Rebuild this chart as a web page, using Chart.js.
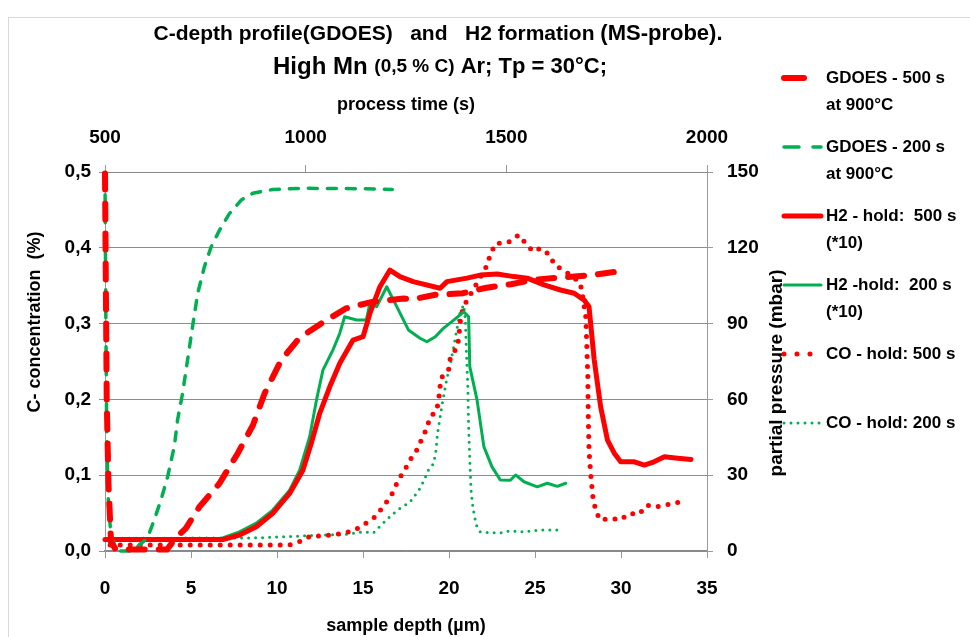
<!DOCTYPE html>
<html>
<head>
<meta charset="utf-8">
<title>C-depth profile (GDOES) and H2 formation (MS-probe)</title>
<script src="https://cdn.jsdelivr.net/npm/chart.js@4.4.0/dist/chart.umd.min.js"></script>
<style>
  html, body { margin: 0; padding: 0; background: #fff; }
  #wrap { position: relative; width: 970px; height: 637px; }
</style>
</head>
<body>
<div id="wrap"><canvas id="chart" width="970" height="637"></canvas></div>
<script>
// --- data ---
// GDOES profiles: sample depth (µm) vs C-concentration (%)
const gdoes500Depth = [0, 0.05, 0.1, 0.2, 0.35, 0.6, 1.0, 3.6, 4.12, 4.7, 5.48, 6.65, 7.72, 8.6, 9.28, 10.25, 11.3, 12.7, 14.0, 15.6, 17.35, 17.9, 19.2, 20.8, 22.1, 23.6, 25.0, 26.6, 28.3, 29.6, 30.0];
const gdoes500C     = [0.498, 0.35, 0.2, 0.09, 0.012, 0.003, 0.002, 0.002, 0.017, 0.030, 0.058, 0.089, 0.129, 0.166, 0.208, 0.252, 0.281, 0.302, 0.320, 0.329, 0.333, 0.332, 0.338, 0.340, 0.347, 0.352, 0.358, 0.361, 0.364, 0.368, 0.368];

const gdoes200Depth = [0, 0.05, 0.1, 0.2, 0.35, 0.7, 1.6, 2.47, 2.86, 3.25, 3.64, 4.03, 4.22, 4.51, 4.8, 5.09, 5.39, 5.78, 6.17, 6.65, 7.23, 7.92, 8.6, 9.76, 11.7, 14.6, 16.7];
const gdoes200C     = [0.495, 0.3, 0.15, 0.06, 0.02, 0.0, 0.0, 0.017, 0.041, 0.067, 0.098, 0.138, 0.173, 0.208, 0.252, 0.296, 0.340, 0.375, 0.401, 0.423, 0.445, 0.463, 0.472, 0.477, 0.4785, 0.478, 0.477];

// MS-probe: process time (s) vs partial pressure (mbar)
const h2Hold500Time = [500, 629, 796, 835, 877, 918, 960, 993, 1014, 1035, 1060, 1085, 1118, 1143, 1160, 1185, 1210, 1235, 1268, 1335, 1352, 1402, 1435, 1477, 1519, 1552, 1594, 1635, 1669, 1694, 1706, 1719, 1735, 1752, 1769, 1785, 1819, 1844, 1868, 1894, 1927, 1960];
const h2Hold500P    = [4.6, 4.6, 4.6, 6.3, 9.6, 14.9, 22.8, 32, 42.6, 54.5, 65, 74.3, 83.5, 84.8, 94, 104.6, 111.2, 108.6, 106.6, 104, 106.6, 108, 109.2, 109.6, 108.6, 108, 105.3, 103.3, 102, 99.3, 96.7, 75.6, 57.1, 43.9, 38.7, 35.3, 35.3, 34, 35.3, 37.3, 36.7, 36.2];

const h2Hold200Time = [500, 779, 835, 877, 918, 960, 985, 1010, 1027, 1043, 1068, 1085, 1097, 1127, 1151, 1160, 1177, 1202, 1227, 1256, 1285, 1302, 1323, 1343, 1369, 1394, 1406, 1409, 1427, 1444, 1464, 1485, 1510, 1523, 1544, 1577, 1602, 1627, 1648];
const h2Hold200P    = [4.4, 4.4, 7.6, 11, 16.2, 24.1, 32, 45.2, 59.8, 71.6, 79.6, 86.2, 92.7, 91.4, 91.4, 98, 96.7, 104.6, 96.7, 87.5, 84.2, 82.8, 84.8, 88.1, 91.4, 94.7, 92.7, 72.9, 59.8, 41.3, 33.4, 28.1, 28, 30.1, 27.4, 25.4, 26.8, 25.6, 26.8];

const coHold500Time = [513, 714, 959, 985, 1010, 1060, 1094, 1123, 1143, 1169, 1193, 1214, 1231, 1247, 1260, 1277, 1289, 1302, 1310, 1325, 1331, 1334, 1337, 1356, 1360, 1373, 1381, 1384, 1387, 1398, 1450, 1460, 1473, 1485, 1508, 1531, 1548, 1567, 1585, 1608, 1620, 1641, 1660, 1684, 1689, 1698, 1700, 1703, 1704, 1706, 1710, 1716, 1723, 1733, 1759, 1784, 1806, 1831, 1850, 1870, 1894, 1920, 1950];
const coHold500P    = [2.4, 2.4, 2.4, 3.7, 5.7, 6.3, 7, 8.3, 10.3, 12.9, 17.5, 22.2, 28.1, 32.1, 36, 40, 44.2, 48.6, 53.2, 55.1, 59.1, 63.7, 68.4, 71.6, 75.9, 79.6, 83.5, 88.8, 93.4, 98, 112.5, 117.2, 121.8, 121.8, 122.4, 125.1, 121.8, 118.5, 119.8, 117.2, 113.2, 111.2, 109.2, 106.2, 102, 92.7, 83.5, 69, 54.5, 40, 30.8, 20.9, 16, 12.3, 12.9, 12.3, 14.9, 14.6, 18.2, 17.4, 18, 19.2, 19.2];

const coHold200Time = [509, 881, 1043, 1094, 1143, 1169, 1193, 1214, 1235, 1256, 1264, 1285, 1295, 1306, 1319, 1325, 1328, 1334, 1339, 1345, 1352, 1360, 1369, 1375, 1381, 1385, 1394, 1398, 1400, 1404, 1406, 1409, 1412, 1417, 1425, 1435, 1460, 1485, 1510, 1544, 1585, 1627, 1643];
const coHold200P    = [5.0, 5.2, 6.3, 6.5, 7.6, 7.2, 11, 14.2, 16.9, 18.9, 20.2, 24.8, 28.1, 32, 34.7, 40, 45.9, 51.9, 57.1, 62.4, 68.4, 73.6, 80.9, 86.2, 91.4, 94.7, 97.4, 91.4, 80.9, 65, 49.2, 36, 24.1, 16.9, 10.3, 7.6, 7.2, 7.2, 8, 7.6, 8.3, 8.3, 8.4];

const seriesNames = ['GDOES - 500 s at 900°C', 'GDOES - 200 s at 900°C', 'H2 - hold:  500 s (*10)', 'H2 -hold:  200 s (*10)', 'CO - hold: 500 s', 'CO - hold: 200 s'];
const legendLabels = [
  ['GDOES - 500 s', 'at 900°C'],
  ['GDOES - 200 s', 'at 900°C'],
  ['H2 - hold:  500 s', '(*10)'],
  ['H2 -hold:  200 s', '(*10)'],
  ['CO - hold: 500 s'],
  ['CO - hold: 200 s']
];

const RED = '#FF0000';
const GREEN = '#00B050';
const FONT = '"Liberation Sans", Arial, sans-serif';

function pairs(xs, ys) {
  return xs.map((x, i) => ({ x: x, y: ys[i] }));
}

// --- plugins: background/border, title, vertical axis titles, side legend ---
const framePlugin = {
  id: 'frame',
  beforeDraw(chart) {
    const ctx = chart.ctx;
    ctx.save();
    ctx.fillStyle = '#fff';
    ctx.fillRect(0, 0, chart.width, chart.height);
    ctx.strokeStyle = '#d9d9d9';
    ctx.lineWidth = 1;
    ctx.strokeRect(8.5, 17.5, 1000, 1000);
    ctx.restore();
  }
};

const titlePlugin = {
  id: 'mixedTitle',
  afterDraw(chart) {
    const ctx = chart.ctx;
    const lines = [
      { cx: 438, y: 34, parts: [['C-depth profile(GDOES)   and   H2 formation ', 21], ['(MS-probe).', 22]] },
      { cx: 440, y: 67, parts: [['High Mn ', 24], ['(0,5 % C)', 19], [' Ar; Tp = 30°C;', 22]] }
    ];
    ctx.save();
    ctx.fillStyle = '#000';
    ctx.textBaseline = 'middle';
    ctx.textAlign = 'left';
    lines.forEach(line => {
      let total = 0;
      line.parts.forEach(p => { ctx.font = 'bold ' + p[1] + 'px ' + FONT; total += ctx.measureText(p[0]).width; });
      let x = line.cx - total / 2;
      line.parts.forEach(p => {
        ctx.font = 'bold ' + p[1] + 'px ' + FONT;
        ctx.fillText(p[0], x, line.y);
        x += ctx.measureText(p[0]).width;
      });
    });
    ctx.restore();
  }
};

const vTitlePlugin = {
  id: 'vTitles',
  afterDraw(chart) {
    const ctx = chart.ctx;
    ctx.save();
    ctx.fillStyle = '#000';
    ctx.textAlign = 'center';
    ctx.textBaseline = 'middle';
    [[35, 322, 'C- concentration  (%)', 18], [777, 373, 'partial pressure (mbar)', 19]].forEach(t => {
      ctx.save();
      ctx.font = 'bold ' + t[3] + 'px ' + FONT;
      ctx.translate(t[0], t[1]);
      ctx.rotate(-Math.PI / 2);
      ctx.fillText(t[2], 0, 0);
      ctx.restore();
    });
    ctx.restore();
  }
};

const sideLegendPlugin = {
  id: 'sideLegend',
  afterDraw(chart) {
    const ctx = chart.ctx;
    ctx.save();
    ctx.font = 'bold 17px ' + FONT;
    ctx.textBaseline = 'middle';
    ctx.textAlign = 'left';
    chart.data.datasets.forEach((ds, i) => {
      const y = 78 + i * 69;
      ctx.beginPath();
      ctx.strokeStyle = ds.borderColor;
      ctx.lineWidth = ds.borderWidth;
      ctx.lineCap = ds.borderCapStyle || 'butt';
      ctx.setLineDash(ds.legendDash || []);
      ctx.moveTo(784, y);
      ctx.lineTo(821, y);
      ctx.stroke();
      ctx.setLineDash([]);
      ctx.fillStyle = '#000';
      legendLabels[i].forEach((txt, k) => ctx.fillText(txt, 826, y + k * 27));
    });
    ctx.restore();
  }
};

const tickFont = { family: FONT, size: 19, weight: 'bold' };
const titleFont = { family: FONT, size: 18, weight: 'bold' };

new Chart(document.getElementById('chart'), {
  type: 'line',
  data: {
    datasets: [
      {
        label: seriesNames[0], data: pairs(gdoes500Depth, gdoes500C), xAxisID: 'x', yAxisID: 'y',
        borderColor: RED, borderWidth: 6, borderDash: [16, 14], borderCapStyle: 'round',
        legendDash: [20, 40], pointRadius: 0, tension: 0, fill: false, clip: false
      },
      {
        label: seriesNames[1], data: pairs(gdoes200Depth, gdoes200C), xAxisID: 'x', yAxisID: 'y',
        borderColor: GREEN, borderWidth: 3.5, borderDash: [9, 10], borderCapStyle: 'round',
        legendDash: [15, 14], pointRadius: 0, tension: 0, fill: false, clip: false
      },
      {
        label: seriesNames[2], data: pairs(h2Hold500Time, h2Hold500P), xAxisID: 'x2', yAxisID: 'y2',
        borderColor: RED, borderWidth: 5, borderCapStyle: 'round', borderJoinStyle: 'round',
        pointRadius: 0, tension: 0, fill: false, clip: false
      },
      {
        label: seriesNames[3], data: pairs(h2Hold200Time, h2Hold200P), xAxisID: 'x2', yAxisID: 'y2',
        borderColor: GREEN, borderWidth: 3, borderCapStyle: 'round', borderJoinStyle: 'round',
        pointRadius: 0, tension: 0, fill: false, clip: false
      },
      {
        label: seriesNames[4], data: pairs(coHold500Time, coHold500P), xAxisID: 'x2', yAxisID: 'y2',
        borderColor: RED, borderWidth: 5, borderDash: [0, 10], borderCapStyle: 'round',
        legendDash: [0, 13], pointRadius: 0, tension: 0, fill: false, clip: false
      },
      {
        label: seriesNames[5], data: pairs(coHold200Time, coHold200P), xAxisID: 'x2', yAxisID: 'y2',
        borderColor: GREEN, borderWidth: 3, borderDash: [0, 7], borderCapStyle: 'round',
        legendDash: [0, 7], pointRadius: 0, tension: 0, fill: false, clip: false
      }
    ]
  },
  options: {
    responsive: false,
    animation: false,
    layout: { padding: { top: 90, right: 183, bottom: 0, left: 0 } },
    plugins: {
      legend: { display: false },
      title: { display: false },
      tooltip: { enabled: false }
    },
    scales: {
      x: {
        type: 'linear', position: 'bottom', min: 0, max: 35,
        afterFit: s => { s.height = 86; },
        ticks: { stepSize: 5, padding: 19, color: '#000', font: tickFont, maxRotation: 0 },
        grid: { drawOnChartArea: false, tickLength: 7, color: '#999' },
        border: { color: '#888', width: 1.5 },
        title: { display: true, text: 'sample depth (µm)', color: '#000', font: titleFont, padding: { top: 2, bottom: 0 } }
      },
      x2: {
        type: 'linear', position: 'top', min: 500, max: 2000,
        afterFit: s => { s.height = 82; },
        ticks: { stepSize: 500, padding: 16, color: '#000', font: tickFont, maxRotation: 0,
                 callback: v => String(v) },
        grid: { drawOnChartArea: false, tickLength: 7, color: '#999' },
        border: { color: '#888' },
        title: { display: true, text: 'process time (s)', color: '#000', font: titleFont, padding: { top: 4, bottom: 0 } }
      },
      y: {
        type: 'linear', position: 'left', min: 0, max: 0.5,
        afterFit: s => { s.width = 105; },
        ticks: { stepSize: 0.1, padding: 8, color: '#000', font: tickFont,
                 callback: v => v.toFixed(1).replace('.', ',') },
        grid: { color: '#8c8c8c', tickLength: 6 },
        border: { color: '#999' }
      },
      y2: {
        type: 'linear', position: 'right', min: 0, max: 150,
        afterFit: s => { s.width = 80; },
        ticks: { stepSize: 30, padding: 14, color: '#000', font: tickFont },
        grid: { drawOnChartArea: false, tickLength: 6, color: '#999' },
        border: { color: '#999' }
      }
    }
  },
  plugins: [framePlugin, titlePlugin, vTitlePlugin, sideLegendPlugin]
});
</script>
</body>
</html>
